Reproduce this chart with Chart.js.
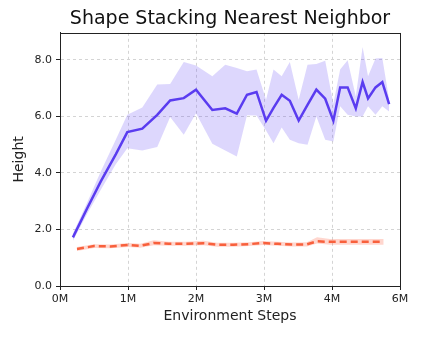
<!DOCTYPE html>
<html>
<head>
<meta charset="utf-8">
<script src="https://cdn.jsdelivr.net/npm/chart.js@4"></script>
<style>
  html, body { margin: 0; padding: 0; background: #fff; }
  #wrap { width: 422px; height: 338px; }
</style>
</head>
<body>
<div id="wrap"><canvas id="chart"></canvas></div>
<script>
// environment steps are in millions
const blueSteps = [0.19, 0.4, 0.6, 0.82, 0.99, 1.21, 1.43, 1.62, 1.82, 2.0, 2.24, 2.43, 2.6, 2.75, 2.89, 3.03,
  3.14, 3.26, 3.38, 3.51, 3.64, 3.77, 3.9, 4.02, 4.12, 4.23, 4.35, 4.45, 4.53, 4.64, 4.74, 4.84];
const blueMean = [1.72, 2.75, 3.7, 4.65, 5.44, 5.56, 6.05, 6.56, 6.64, 6.94, 6.22, 6.28, 6.09, 6.76, 6.86, 5.84,
  6.3, 6.76, 6.55, 5.85, 6.4, 6.94, 6.62, 5.84, 7.02, 7.02, 6.28, 7.21, 6.63, 7.02, 7.21, 6.43];
const blueUpper = [1.85, 2.95, 4.05, 5.17, 6.05, 6.31, 7.12, 7.14, 7.92, 7.79, 7.41, 7.82, 7.71, 7.59, 7.65, 6.58,
  7.65, 7.41, 7.92, 6.58, 7.82, 7.85, 7.96, 6.44, 7.65, 7.98, 6.7, 8.45, 7.41, 8.04, 8.06, 6.58];
const blueLower = [1.6, 2.55, 3.4, 4.3, 4.87, 4.79, 4.91, 5.97, 5.35, 6.11, 5.03, 4.79, 4.58, 6.04, 6.03, 5.5,
  5.05, 5.6, 5.17, 5.05, 4.99, 5.99, 5.17, 5.11, 6.35, 6.05, 5.99, 5.99, 6.35, 6.05, 6.35, 6.17];

const redSteps = [0.25, 0.5, 0.74, 1.0, 1.18, 1.38, 1.6, 1.85, 2.11, 2.31, 2.55, 2.78, 2.99, 3.2, 3.42, 3.63,
  3.78, 3.97, 4.2, 4.45, 4.76];
const redMean = [1.31, 1.41, 1.40, 1.45, 1.42, 1.52, 1.49, 1.49, 1.51, 1.46, 1.46, 1.48, 1.52, 1.49, 1.47, 1.47,
  1.58, 1.56, 1.56, 1.56, 1.56];
const redUpper = [1.38, 1.48, 1.47, 1.52, 1.49, 1.62, 1.56, 1.56, 1.60, 1.53, 1.53, 1.55, 1.59, 1.56, 1.54, 1.55,
  1.72, 1.66, 1.66, 1.66, 1.66];
const redLower = [1.24, 1.34, 1.33, 1.38, 1.35, 1.44, 1.42, 1.42, 1.44, 1.39, 1.39, 1.41, 1.45, 1.42, 1.40, 1.40,
  1.50, 1.46, 1.46, 1.46, 1.46];

// matplotlib labelled the 5th tick "6M", keep it that way
const xTickLabels = ["0M", "1M", "2M", "3M", "4M", "6M"];
const yTicks = [0, 2, 4, 6, 8];

function pts(xs, ys) {
  return xs.map((x, i) => ({ x: x, y: ys[i] }));
}

const band = { pointRadius: 0, borderWidth: 0, tension: 0 };

// box around the plot + title centred over the plot area
const frame = {
  id: "frame",
  afterLayout(chart) {
    if (chart.titleBlock) {
      chart.titleBlock.left = chart.chartArea.left;
      chart.titleBlock.right = chart.chartArea.right;
    }
  },
  afterDraw(chart) {
    const a = chart.chartArea;
    const ctx = chart.ctx;
    ctx.save();
    ctx.strokeStyle = "#222";
    ctx.lineWidth = 1;
    ctx.strokeRect(Math.round(a.left) + 0.5, Math.round(a.top) + 0.5,
      Math.round(a.right - a.left), Math.round(a.bottom - a.top));
    ctx.restore();
  }
};

Chart.defaults.font.family = "'DejaVu Sans', sans-serif";
Chart.defaults.color = "#222";

new Chart(document.getElementById("chart"), {
  type: "line",
  data: {
    datasets: [
      Object.assign({ data: pts(blueSteps, blueUpper), fill: "+1", backgroundColor: "rgba(100,75,245,0.22)" }, band),
      Object.assign({ data: pts(blueSteps, blueLower), fill: false }, band),
      { data: pts(blueSteps, blueMean), borderColor: "#5a3cf0", borderWidth: 2.5, pointRadius: 0, tension: 0, fill: false },
      Object.assign({ data: pts(redSteps, redUpper), fill: "+1", backgroundColor: "rgba(255,95,65,0.26)" }, band),
      Object.assign({ data: pts(redSteps, redLower), fill: false }, band),
      { data: pts(redSteps, redMean), borderColor: "#f8603c", borderWidth: 2.5, borderDash: [7, 4], pointRadius: 0, tension: 0, fill: false }
    ]
  },
  options: {
    responsive: true,
    maintainAspectRatio: false,
    animation: false,
    layout: { padding: { left: 0, right: 22, top: 0, bottom: 0 } },
    plugins: {
      legend: { display: false },
      tooltip: { enabled: false },
      filler: { drawTime: "beforeDatasetsDraw" },
      title: {
        display: true,
        text: "Shape Stacking Nearest Neighbor",
        color: "#111",
        font: { size: 19, weight: "normal" },
        padding: { top: 8, bottom: 2 }
      }
    },
    scales: {
      x: {
        type: "linear",
        min: 0,
        max: 5,
        ticks: {
          stepSize: 1,
          padding: 3,
          font: { size: 11 },
          maxRotation: 0,
          callback: (v) => xTickLabels[Math.round(v)]
        },
        grid: { color: "#d4d4d4", tickColor: "#222", tickLength: 4, tickBorderDash: [] },
        border: { color: "#222", dash: [3, 3] },
        title: { display: true, text: "Environment Steps", font: { size: 14 }, padding: { top: 0, bottom: 13 } },
        afterFit: (s) => { s.height = 52; }
      },
      y: {
        min: 0,
        max: 8.95,
        afterBuildTicks: (s) => { s.ticks = yTicks.map(v => ({ value: v })); },
        ticks: {
          padding: 4,
          font: { size: 11 },
          callback: (v) => v.toFixed(1)
        },
        grid: { color: "#d4d4d4", tickColor: "#222", tickLength: 4, tickBorderDash: [] },
        border: { color: "#222", dash: [3, 3] },
        title: { display: true, text: "Height", font: { size: 14 }, padding: { top: 11, bottom: 0 } },
        afterFit: (s) => { s.width = 60; }
      }
    }
  },
  plugins: [frame]
});
</script>
</body>
</html>
